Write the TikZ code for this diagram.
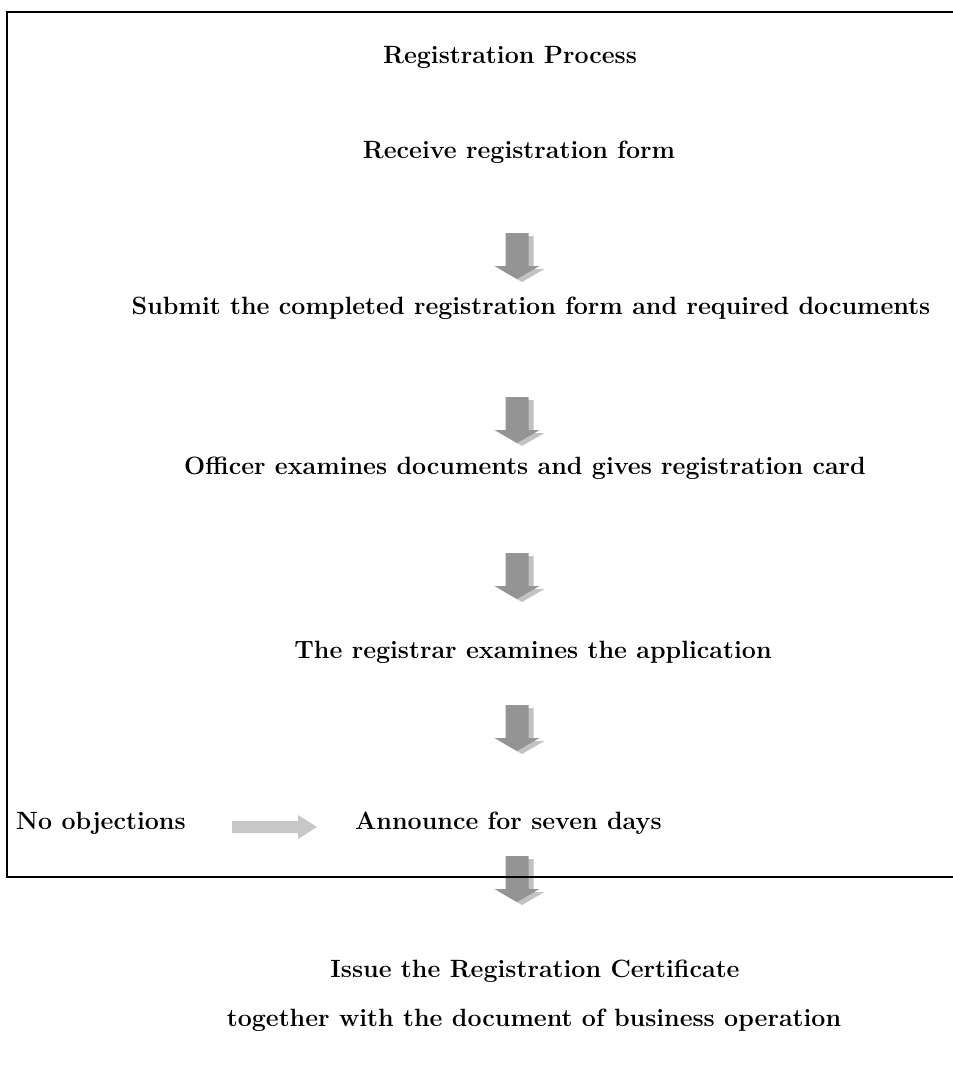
\documentclass[tikz,border=0pt]{standalone}
\begin{document}
\begin{tikzpicture}[x=1pt,y=-1pt,
  steptext/.style={font=\fontsize{25}{30}\selectfont\bfseries, inner sep=0pt, anchor=base},
  arrowbody/.style={fill=black!42},
  arrowshadow/.style={fill=black!24},
  sidearrow/.style={fill=black!22},
  frame/.style={line width=1.6pt, line cap=rect},
  downarrow/.pic={
    \fill[arrowshadow] (-6.5,3) -- (16.5,3) -- (16.5,36) -- (27.5,36) -- (5,49) -- (-17.5,36) -- (-6.5,36) -- cycle;
    \fill[arrowbody] (-11.5,0) -- (11.5,0) -- (11.5,33) -- (22.5,33) -- (0,46) -- (-22.5,33) -- (-11.5,33) -- cycle;
  }]
\useasboundingbox (0,0) rectangle (953,1066);

\node[steptext] (title) at (510,63) {Registration Process};
\node[steptext] (receive) at (519,158) {Receive registration form};
\node[steptext] (submit) at (531,314) {Submit the completed registration form and required documents};
\node[steptext] (officer) at (525,474) {Officer examines documents and gives registration card};
\node[steptext] (registrar) at (533,658) {The registrar examines the application};
\node[steptext, anchor=base west] (noobj) at (16,829) {No objections};
\node[steptext, anchor=base west] (announce) at (355,829) {Announce for seven days};
\node[steptext] (issue) at (535,977) {Issue the Registration Certificate};
\node[steptext] (together) at (534,1026) {together with the document of business operation};

\pic at (517,233) {downarrow};
\pic at (517,397) {downarrow};
\pic at (517,553) {downarrow};
\pic at (517,705) {downarrow};
\pic at (517,856) {downarrow};

\fill[sidearrow] (232,821) -- (298,821) -- (298,815) -- (317,827) -- (298,839) -- (298,833) -- (232,833) -- cycle;

\draw[frame] (953,12) -- (7,12) -- (7,877) -- (953,877);
\end{tikzpicture}
\end{document}
